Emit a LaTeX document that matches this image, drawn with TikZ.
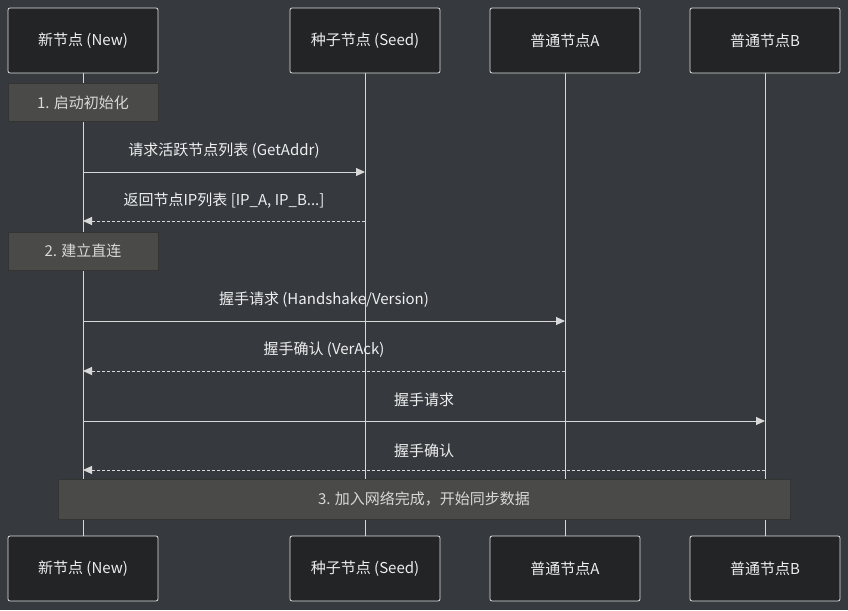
\documentclass[tikz,border=0pt]{standalone}
\usepackage{fontspec}
\setmainfont{Noto Sans CJK SC}
\usetikzlibrary{arrows.meta}
\definecolor{bg}{HTML}{363A3F}
\definecolor{actfill}{HTML}{232425}
\definecolor{notefill}{HTML}{4A4A48}
\definecolor{ln}{HTML}{D8D8D8}
\definecolor{txt}{HTML}{EEEEEE}
\begin{document}
\begin{tikzpicture}[x=1pt,y=-1pt,
 actor/.style={draw=ln!80,fill=actfill,rounded corners=2pt,minimum width=150pt,minimum height=65pt,text=txt,font=\fontsize{15}{17}\selectfont,line width=0.8pt},
 note/.style={draw=notefill!70!black,fill=notefill,minimum height=38pt,text=ln,font=\fontsize{15}{17}\selectfont,inner sep=0pt},
 life/.style={ln,line width=0.8pt},
 msg/.style={ln,line width=0.9pt,-{Triangle[length=9pt,width=8pt]}},
 ret/.style={msg,dash pattern=on 3pt off 2pt},
 lbl/.style={text=txt,font=\fontsize{15}{17}\selectfont}]
\fill[bg] (0,0) rectangle (848,610);
\foreach \n/\x/\t in {n/83/新节点 (New),s/365/种子节点 (Seed),a/565/普通节点A,b/765/普通节点B}{
  \draw[life] (\x,73) -- (\x,536);
  \node[actor] (\n1) at (\x,40.5) {\t};
  \node[actor] (\n2) at (\x,568.5) {\t};
}
\node[note,minimum width=150pt] (p1) at (83,102.5) {1. 启动初始化};
\node[note,minimum width=150pt] (p2) at (83,251) {2. 建立直连};
\node[note,minimum width=732pt,minimum height=40pt] (p3) at (424,499) {3. 加入网络完成，开始同步数据};
\coordinate (n1a) at (83,172); \coordinate (s1a) at (365,172);
\coordinate (n1b) at (83,221); \coordinate (s1b) at (365,221);
\coordinate (n2a) at (83,321); \coordinate (a2a) at (565,321);
\coordinate (n2b) at (83,371); \coordinate (a2b) at (565,371);
\coordinate (n3a) at (83,421); \coordinate (b3a) at (765,421);
\coordinate (n3b) at (83,470); \coordinate (b3b) at (765,470);
\draw[msg] (n1a) -- (s1a);
\draw[ret] (s1b) -- (n1b);
\draw[msg] (n2a) -- (a2a);
\draw[ret] (a2b) -- (n2b);
\draw[msg] (n3a) -- (b3a);
\draw[ret] (b3b) -- (n3b);
\node[lbl] (l1) at (224,151) {请求活跃节点列表 (GetAddr)};
\node[lbl] (l2) at (224,201) {返回节点IP列表 [IP\_A, IP\_B...]};
\node[lbl] (l3) at (324,300) {握手请求 (Handshake/Version)};
\node[lbl] (l4) at (324,350) {握手确认 (VerAck)};
\node[lbl] (l5) at (424,400) {握手请求};
\node[lbl] (l6) at (424,451) {握手确认};
\end{tikzpicture}
\end{document}
